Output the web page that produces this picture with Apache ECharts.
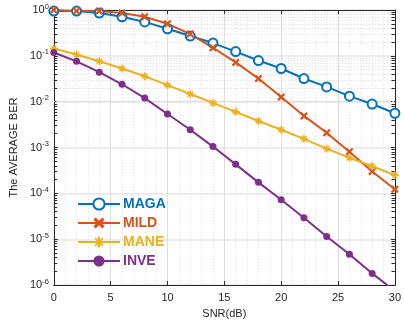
<!DOCTYPE html>
<html>
<head>
<meta charset="utf-8">
<script src="https://cdn.jsdelivr.net/npm/echarts@6/dist/echarts.min.js"></script>
<style>html,body{margin:0;padding:0;background:#fff}#c{width:404px;height:324px}</style>
</head>
<body>
<div id="c"></div>
<script>
const snr = [0,2,4,6,8,10,12,14,16,18,20,22,24,26,28,30];
const maga = [0.95,0.95,0.86,0.71,0.55,0.39,0.27,0.19,0.124,0.079,0.053,0.032,0.021,0.0132,0.0089,0.0056];
const mild = [1.0,0.95,0.95,0.86,0.71,0.50,0.30,0.15,0.072,0.032,0.0126,0.0049,0.0021,0.00081,0.00030,0.000123];
const mane = [0.144,0.107,0.076,0.053,0.036,0.023,0.0147,0.0094,0.0060,0.0038,0.00245,0.00155,0.00095,0.0006,0.00039,0.00025];
const inve = [0.118,0.076,0.044,0.024,0.012,0.0054,0.00245,0.00105,0.00043,0.000174,0.0000724,0.0000295,0.0000115,0.0000047,0.0000018,0.00000074];
const seriesNames = ['MAGA','MILD','MANE','INVE'];
const colors = ['#0072BD','#D95319','#EDB120','#7E2F8E'];
const xTicks = [0,5,10,15,20,25,30];
const yDecades = [-6,-5,-4,-3,-2,-1,0];

const X_PATH = 'path://M0,2 L2,0 L5,3 L8,0 L10,2 L7,5 L10,8 L8,10 L5,7 L2,10 L0,8 L3,5 Z';
const STAR_PATH = 'path://M4,0 L6,0 L6,4 L10,4 L10,6 L6,6 L6,10 L4,10 L4,6 L0,6 L0,4 L4,4 Z M1,2 L2,1 L5,4 L8,1 L9,2 L6,5 L9,8 L8,9 L5,6 L2,9 L1,8 L4,5 Z';

const pairs = arr => snr.map((x,i)=>[x,arr[i]]);

const minorVals = [];
for (const d of yDecades.slice(0,-1)) for (let k=2;k<=9;k++) minorVals.push(k*Math.pow(10,d));
const minorGrid = minorVals.map(v=>({yAxis:v}));
const minorTicks = [];
minorVals.forEach(v=>{
  minorTicks.push([{coord:[0,v]},{coord:[0.3,v]}]);
  minorTicks.push([{coord:[29.7,v]},{coord:[30,v]}]);
});

const font = 'Liberation Sans, Arial, Helvetica, sans-serif';
const txt = '#262626';
const chart = echarts.init(document.getElementById('c'), null, {renderer:'canvas'});

const supFmt = v => {
  const e = Math.round(Math.log10(v));
  return '{b|10}{s|' + e + '}';
};

const mk = (name, data, color, symbol, size, extra) => Object.assign({
  name, type:'line', data: pairs(data), symbol, symbolSize:size,
  lineStyle:{color, width:2}, itemStyle:{color}, z:5, animation:false
}, extra||{});

chart.setOption({
  animation:false,
  grid:{left:49, right:5, top:10, bottom:36, show:false},
  legend:{
    orient:'vertical', left:72, top:192, itemGap:5, itemWidth:42, itemHeight:14,
    backgroundColor:'rgba(255,255,255,0)',
    textStyle:{fontFamily:font, fontSize:14, fontWeight:'bold', padding:[0,0,0,-2]},
    data: seriesNames.map((n,i)=>({name:n, textStyle:{color:colors[i]}}))
  },
  xAxis:[{
    type:'value', min:0, max:30, interval:5, position:'bottom',
    name:'SNR(dB)', nameLocation:'middle', nameGap:22,
    nameTextStyle:{fontFamily:font, fontSize:11, color:txt},
    axisLine:{show:true, onZero:false, lineStyle:{color:txt, width:1}},
    axisTick:{show:true, inside:true, length:4, lineStyle:{color:txt}},
    axisLabel:{fontFamily:font, fontSize:11, color:txt, margin:7},
    splitLine:{show:true, lineStyle:{color:'#dedede', width:1}},
    minorTick:{show:false, splitNumber:5},
    minorSplitLine:{show:true, lineStyle:{color:'#e2e2e2', width:1, type:[1,2]}}
  },{
    type:'value', min:0, max:30, interval:5, position:'top',
    axisLine:{show:true, onZero:false, lineStyle:{color:txt, width:1}},
    axisTick:{show:true, inside:true, length:4, lineStyle:{color:txt}},
    axisLabel:{show:false}, splitLine:{show:false}
  }],
  yAxis:[{
    type:'log', logBase:10, min:1e-6, max:1, interval:1, position:'left',
    name:'The AVERAGE BER', nameLocation:'middle', nameGap:32,
    nameTextStyle:{fontFamily:font, fontSize:11, color:txt},
    axisLine:{show:true, onZero:false, lineStyle:{color:txt, width:1}},
    axisTick:{show:true, inside:true, length:4, lineStyle:{color:txt}},
    axisLabel:{formatter:supFmt, margin:5, color:txt,
      rich:{b:{fontFamily:font, fontSize:11, color:txt},
            s:{fontFamily:font, fontSize:7.5, color:txt, verticalAlign:'bottom', padding:[0,0,7,0]}}},
    splitLine:{show:true, lineStyle:{color:'#e6e6e6', width:1.5}}
  },{
    type:'log', logBase:10, min:1e-6, max:1, interval:1, position:'right',
    axisLine:{show:true, onZero:false, lineStyle:{color:txt, width:1}},
    axisTick:{show:true, inside:true, length:4, lineStyle:{color:txt}},
    axisLabel:{show:false}, splitLine:{show:false}
  }],
  series:[
    {type:'line', name:'_grid', data:[], silent:true, z:1,
      markLine:{silent:true, symbol:['none','none'], label:{show:false}, animation:false,
        lineStyle:{color:'#d8d8d8', width:1, type:[1,2]}, data:minorGrid}},
    {type:'line', name:'_ticks', data:[], silent:true, z:6,
      markLine:{silent:true, symbol:['none','none'], label:{show:false}, animation:false,
        lineStyle:{color:txt, width:1, type:'solid'}, data:minorTicks}},
    mk('MAGA', maga, colors[0], 'emptyCircle', 9, {itemStyle:{color:colors[0], borderWidth:2, borderColor:colors[0]}}),
    mk('MILD', mild, colors[1], X_PATH, 8),
    mk('MANE', mane, colors[2], STAR_PATH, 8),
    mk('INVE', inve, colors[3], 'circle', 7)
  ]
});
</script>
</body>
</html>
